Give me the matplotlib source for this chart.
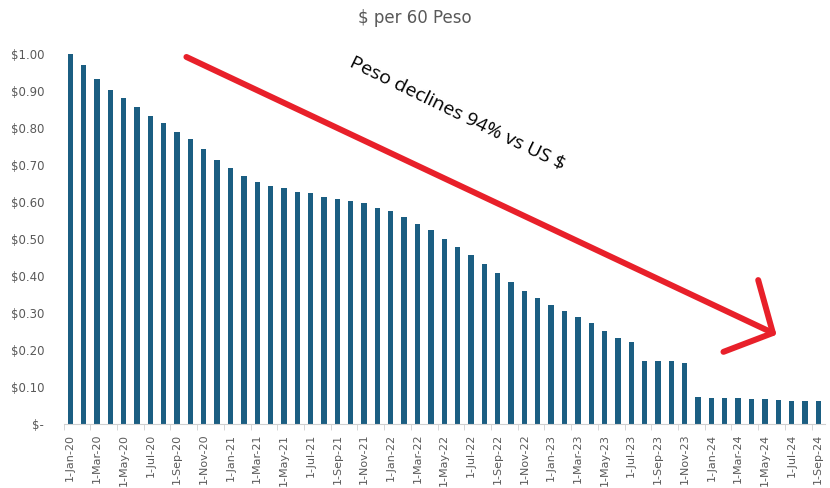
import pandas as pd
import matplotlib.pyplot as plt
from matplotlib.ticker import FuncFormatter

# monthly dates Jan-2020 .. Sep-2024
dates = pd.date_range("2020-01-01", periods=57, freq="MS")
labels = ["1-" + d.strftime("%b-%y") for d in dates]

# US $ per 60 pesos
values = [1.000, 0.969, 0.933, 0.904, 0.880, 0.857, 0.832, 0.813, 0.790, 0.770,
          0.742, 0.714, 0.691, 0.670, 0.655, 0.643, 0.637, 0.628, 0.624, 0.614,
          0.608, 0.603, 0.596, 0.585, 0.575, 0.560, 0.541, 0.523, 0.499, 0.479,
          0.456, 0.432, 0.408, 0.384, 0.359, 0.340, 0.322, 0.305, 0.288, 0.273,
          0.252, 0.233, 0.221, 0.170, 0.170, 0.170, 0.165, 0.074, 0.071, 0.071,
          0.070, 0.067, 0.067, 0.066, 0.062, 0.062, 0.062]

# hand drawn arrow (category index, value)
arrow_x = [8.7, 52.6]
arrow_y = [0.992, 0.246]
head_x = [51.5, 52.6, 48.9]
head_y = [0.389, 0.246, 0.195]

grey = "#595959"
bar_color = "#1b5e82"
red = "#e8202a"

fig = plt.figure(figsize=(8.3, 4.88), dpi=100)
ax = fig.add_axes([63.5 / 830, 1 - 424 / 488, (825 - 63.5) / 830, 370 / 488])

x = list(range(len(values)))
ax.bar(x, values, width=0.4, color=bar_color)

ax.set_xlim(-0.5, len(values) - 0.5)
ax.set_ylim(0, 1.0)

ax.set_yticks([i / 10 for i in range(11)])
ax.yaxis.set_major_formatter(FuncFormatter(lambda v, p: "$-" if v == 0 else f"${v:.2f}"))
ax.tick_params(axis="y", length=0, labelsize=8.5, labelcolor=grey, pad=14)

ax.set_xticks(x[::2])
ax.set_xticklabels(labels[::2], rotation=90, fontsize=8, color=grey)
ax.set_xticks([i - 0.5 for i in range(0, len(values) + 1, 2)], minor=True)
ax.tick_params(axis="x", which="major", length=0, pad=7)
ax.tick_params(axis="x", which="minor", length=4, color="#d0d0d0")

for s in ["top", "right", "left"]:
    ax.spines[s].set_visible(False)
ax.spines["bottom"].set_color("#d0d0d0")

fig.text(0.5, 1 - 18 / 488, "$ per 60 Peso", ha="center", va="center",
         fontsize=12, family=["Liberation Sans Narrow", "DejaVu Sans"], color=grey)

ax.plot(arrow_x, arrow_y, color=red, lw=4.3, solid_capstyle="round", clip_on=False)
ax.plot(head_x, head_y, color=red, lw=4.3, solid_capstyle="round",
        solid_joinstyle="round", clip_on=False)

ax.text(29.0, 0.84, "Peso declines 94% vs US $", rotation=-26,
        rotation_mode="anchor", ha="center", va="center", fontsize=14,
        family="Open Sans", color="black")

fig.savefig("out.png", dpi=100)
